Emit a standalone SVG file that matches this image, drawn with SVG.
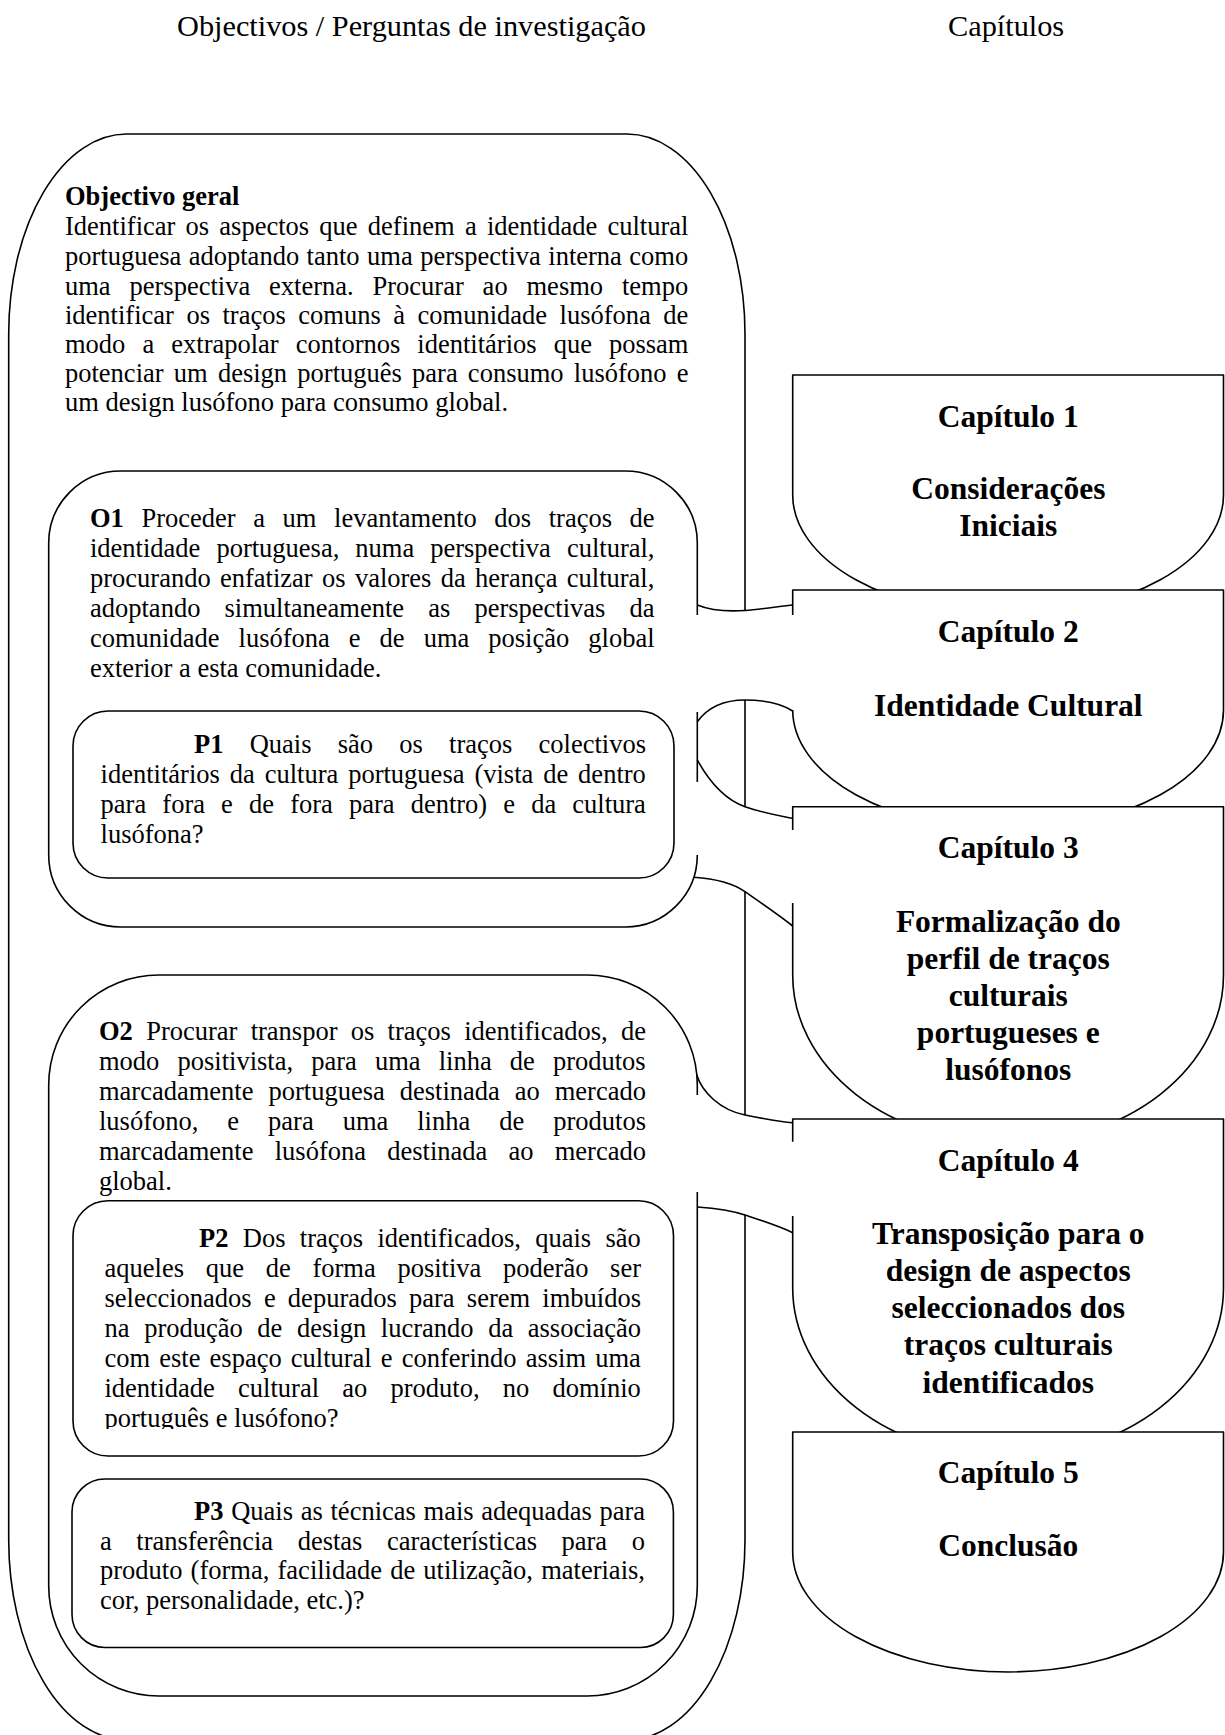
<svg xmlns="http://www.w3.org/2000/svg" width="1225" height="1735" viewBox="0 0 1225 1735">
<style>
.b{fill:none;stroke:#000;stroke-width:1.6;stroke-linejoin:round}
.w{fill:#fff;stroke:none}
.t{font-family:"Liberation Serif","Times New Roman",serif;font-size:26.5px;fill:#000}
.hd{font-family:"Liberation Serif","Times New Roman",serif;font-size:30.3px;fill:#000}
.c{font-family:"Liberation Serif","Times New Roman",serif;font-size:31.5px;font-weight:bold;text-anchor:middle;fill:#000}
.bo{font-weight:bold}
</style>
<defs>
<clipPath id="clipP2"><rect x="60" y="1190" width="620" height="239"/></clipPath>
</defs>
<rect width="1225" height="1735" fill="#fff"/>

<g id="headers">
<text class="hd" x="177" y="35.5">Objectivos / Perguntas de investigação</text>
<text class="hd" x="948" y="35.5">Capítulos</text>
</g>

<g id="objectives-panel">
<path class="b" d="M745,610.5 V334 A118 200 0 0 0 627,134 H126.7 A118 200 0 0 0 8.7,334 V1540 A118 200 0 0 0 126.7,1740 H627 A118 200 0 0 0 745,1540 V1215"/>
<path class="b" d="M745,700 V806.7 M745,891.7 V1115"/>
<g id="general-objective">
<text class="t bo" x="65" y="205.3">Objectivo geral</text>
<text class="t" x="65" y="235.3" style="word-spacing:3.6px">Identificar os aspectos que definem a identidade cultural</text>
<text class="t" x="65" y="264.7" style="word-spacing:0.85px">portuguesa adoptando tanto uma perspectiva interna como</text>
<text class="t" x="65" y="294.7" style="word-spacing:12.25px">uma perspectiva externa. Procurar ao mesmo tempo</text>
<text class="t" x="65" y="323.7" style="word-spacing:5.9px">identificar os traços comuns à comunidade lusófona de</text>
<text class="t" x="65" y="353" style="word-spacing:10.45px">modo a extrapolar contornos identitários que possam</text>
<text class="t" x="65" y="382" style="word-spacing:3.6px">potenciar um design português para consumo lusófono e</text>
<text class="t" x="65" y="411.3">um design lusófono para consumo global.</text>
</g>
</g>

<g id="O1">
<path class="b" d="M697.3,615 V543 A72 72 0 0 0 625.3,471 H120.7 A72 72 0 0 0 48.7,543 V855 A72 72 0 0 0 120.7,927 H625.3 A72 72 0 0 0 697.3,855 M697.3,712 V782"/>
<text class="t" x="90" y="526.7" style="word-spacing:10.96px"><tspan class="bo">O1</tspan> Proceder a um levantamento dos traços de</text>
<text class="t" x="90" y="556.7" style="word-spacing:9.4px">identidade portuguesa, numa perspectiva cultural,</text>
<text class="t" x="90" y="586.7" style="word-spacing:2.7px">procurando enfatizar os valores da herança cultural,</text>
<text class="t" x="90" y="616.7" style="word-spacing:17.5px">adoptando simultaneamente as perspectivas da</text>
<text class="t" x="90" y="646.7" style="word-spacing:12.4px">comunidade lusófona e de uma posição global</text>
<text class="t" x="90" y="676.7">exterior a esta comunidade.</text>
</g>

<g id="P1">
<rect class="b" x="73" y="711" width="601" height="167" rx="35" ry="35"/>
<text class="t" x="194" y="753.3" style="word-spacing:19.6px"><tspan class="bo">P1</tspan> Quais são os traços colectivos</text>
<text class="t" x="100.6" y="783.3" style="word-spacing:3.3px">identitários da cultura portuguesa (vista de dentro</text>
<text class="t" x="100.6" y="813.3" style="word-spacing:9.5px">para fora e de fora para dentro) e da cultura</text>
<text class="t" x="100.6" y="843.3">lusófona?</text>
</g>

<g id="O2">
<path class="b" d="M697.3,1095 V1085 A110 110 0 0 0 587.3,975 H158.7 A110 110 0 0 0 48.7,1085 V1586 A110 110 0 0 0 158.7,1696 H587.3 A110 110 0 0 0 697.3,1586 V1192"/>
<text class="t" x="99" y="1040" style="word-spacing:6.65px"><tspan class="bo">O2</tspan> Procurar transpor os traços identificados, de</text>
<text class="t" x="99" y="1070" style="word-spacing:11.5px">modo positivista, para uma linha de produtos</text>
<text class="t" x="99" y="1100" style="word-spacing:8.35px">marcadamente portuguesa destinada ao mercado</text>
<text class="t" x="99" y="1130" style="word-spacing:22.35px">lusófono, e para uma linha de produtos</text>
<text class="t" x="99" y="1160" style="word-spacing:14.6px">marcadamente lusófona destinada ao mercado</text>
<text class="t" x="99" y="1190">global.</text>
</g>

<g id="P2">
<rect class="b" x="73" y="1200.7" width="600.5" height="255.3" rx="35" ry="35"/>
<g clip-path="url(#clipP2)">
<text class="t" x="199" y="1246.7" style="word-spacing:7.7px"><tspan class="bo">P2</tspan> Dos traços identificados, quais são</text>
<text class="t" x="104.5" y="1276.7" style="word-spacing:15.1px">aqueles que de forma positiva poderão ser</text>
<text class="t" x="104.5" y="1306.7" style="word-spacing:5.6px">seleccionados e depurados para serem imbuídos</text>
<text class="t" x="104.5" y="1336.7" style="word-spacing:8px">na produção de design lucrando da associação</text>
<text class="t" x="104.5" y="1366.7" style="word-spacing:2.5px">com este espaço cultural e conferindo assim uma</text>
<text class="t" x="104.5" y="1396.7" style="word-spacing:16.6px">identidade cultural ao produto, no domínio</text>
<text class="t" x="104.5" y="1427">português e lusófono?</text>
</g>
</g>

<g id="P3">
<rect class="b" x="72" y="1479" width="601.4" height="168.5" rx="33" ry="33"/>
<text class="t" x="194" y="1520" style="word-spacing:1.1px"><tspan class="bo">P3</tspan> Quais as técnicas mais adequadas para</text>
<text class="t" x="100" y="1550" style="word-spacing:17.9px">a transferência destas características para o</text>
<text class="t" x="100" y="1579.3" style="word-spacing:1.56px">produto (forma, facilidade de utilização, materiais,</text>
<text class="t" x="100" y="1608.7">cor, personalidade, etc.)?</text>
</g>

<g id="chapter1">
<path class="w" d="M792.7,375 H1223.5 V495 A215.4 120 0 0 1 792.7,495 Z"/>
<path class="b" d="M792.7,375 H1223.5 V495 A215.4 120 0 0 1 792.7,495 Z"/>
<text class="c" x="1008.3" y="426.8">Capítulo 1</text>
<text class="c" x="1008.3" y="499.3">Considerações</text>
<text class="c" x="1008.3" y="535.8">Iniciais</text>
</g>

<g id="chapter2">
<path class="w" d="M792.7,590 H1223.5 V710 A215.4 120 0 0 1 792.7,710 Z"/>
<path class="b" d="M792.7,615 V590 H1223.5 V710 A215.4 120 0 0 1 792.7,710"/>
<text class="c" x="1008.3" y="642">Capítulo 2</text>
<text class="c" x="1008.3" y="715.5">Identidade Cultural</text>
</g>

<g id="chapter3">
<path class="w" d="M792.7,806.7 H1223.5 V975.2 A215.4 168.5 0 0 1 792.7,975.2 Z"/>
<path class="b" d="M792.7,830 V806.7 H1223.5 V975.2 A215.4 168.5 0 0 1 792.7,975.2 V903"/>
<text class="c" x="1008.3" y="858.2">Capítulo 3</text>
<text class="c" x="1008.3" y="931.5">Formalização do</text>
<text class="c" x="1008.3" y="968.5">perfil de traços</text>
<text class="c" x="1008.3" y="1005.5">culturais</text>
<text class="c" x="1008.3" y="1042.5">portugueses e</text>
<text class="c" x="1008.3" y="1079.5">lusófonos</text>
</g>

<g id="chapter4">
<path class="w" d="M792.7,1119 H1223.5 V1288 A215.4 169 0 0 1 792.7,1288 Z"/>
<path class="b" d="M792.7,1141.7 V1119 H1223.5 V1288 A215.4 169 0 0 1 792.7,1288 V1216"/>
<text class="c" x="1008.3" y="1170.5">Capítulo 4</text>
<text class="c" x="1008.3" y="1243.5">Transposição para o</text>
<text class="c" x="1008.3" y="1281">design de aspectos</text>
<text class="c" x="1008.3" y="1318">seleccionados dos</text>
<text class="c" x="1008.3" y="1355">traços culturais</text>
<text class="c" x="1008.3" y="1392.5">identificados</text>
</g>

<g id="chapter5">
<path class="w" d="M792.7,1432 H1223.5 V1552 A215.4 120 0 0 1 792.7,1552 Z"/>
<path class="b" d="M792.7,1432 H1223.5 V1552 A215.4 120 0 0 1 792.7,1552 Z"/>
<text class="c" x="1008.3" y="1482.5">Capítulo 5</text>
<text class="c" x="1008.3" y="1555.5">Conclusão</text>
</g>

<g id="connectors">
<path class="b" d="M697.3,605 C712,611 730,611.5 745,610.5 S782,606 792.7,605"/>
<path class="b" d="M697.3,721.7 C708,707 724,700 745,700 S782,704 792.7,711"/>
<path class="b" d="M697.3,760 C710,783 726,800 745,806.7 S781,816 792.7,818.3"/>
<path class="b" d="M693.8,877.3 C718,879 734,884 745,891.7 S776,913 792.7,926"/>
<path class="b" d="M696.8,1075 C702,1092 720,1110 745,1115 S782,1122 792.7,1122.7"/>
<path class="b" d="M697.3,1207 C718,1208.5 733,1211 745,1215 S779,1226 792.7,1232.7"/>
</g>
</svg>
